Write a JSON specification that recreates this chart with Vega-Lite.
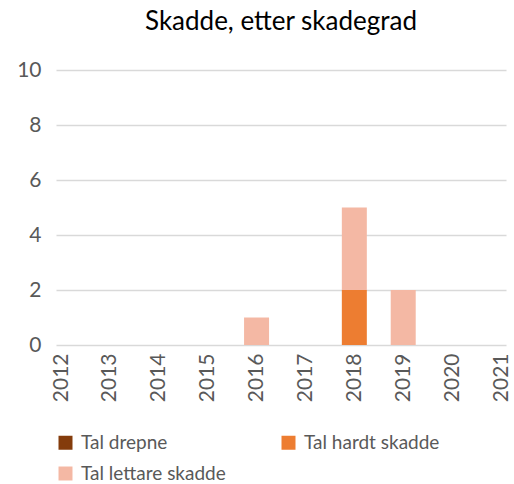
{
  "$schema": "https://vega.github.io/schema/vega-lite/v6.json",
  "width": 450,
  "height": 275,
  "padding": {"left": 16, "top": 9, "right": 0, "bottom": 5},
  "background": "white",
  "title": {"text": "Skadde, etter skadegrad", "fontSize": 26, "font": "Lato", "fontWeight": "normal", "color": "#000000", "offset": 24, "anchor": "middle"},
  "config": {"view": {"stroke": null}, "font": "Lato"},
  "data": {"values": [
    {"year": 2012, "serie": "Tal drepne", "n": 0},
    {"year": 2016, "serie": "Tal lettare skadde", "n": 1},
    {"year": 2018, "serie": "Tal hardt skadde", "n": 2},
    {"year": 2018, "serie": "Tal lettare skadde", "n": 3},
    {"year": 2019, "serie": "Tal lettare skadde", "n": 2}
  ]},
  "mark": {"type": "bar", "size": 25},
  "encoding": {
    "x": {"field": "year", "type": "quantitative",
      "scale": {"domain": [2012, 2021], "nice": false, "zero": false},
      "axis": {"values": [2012,2013,2014,2015,2016,2017,2018,2019,2020,2021], "format": "d", "title": null, "grid": false, "domain": false, "ticks": false, "labelAngle": -90, "labelAlign": "right", "labelBaseline": "middle", "labelFontSize": 21, "labelColor": "#595959", "labelPadding": 8, "labelFlush": false, "labelOverlap": false}},
    "y": {"field": "n", "type": "quantitative", "stack": "zero",
      "scale": {"domain": [0, 10], "nice": false},
      "axis": {"values": [0,2,4,6,8,10], "title": null, "domain": false, "ticks": false, "gridColor": "#D9D9D9", "gridWidth": 1.3, "labelFontSize": 21, "labelColor": "#595959", "labelPadding": 15}},
    "color": {"field": "serie", "type": "nominal",
      "scale": {"domain": ["Tal drepne", "Tal hardt skadde", "Tal lettare skadde"], "range": ["#843C0C", "#ED7D31", "#F4B8A4"]},
      "legend": {"title": null, "orient": "bottom", "direction": "horizontal", "columns": 2, "columnPadding": 53, "rowPadding": 11, "symbolType": "square", "symbolSize": 196, "symbolStrokeWidth": 0, "labelFontSize": 19, "labelColor": "#595959", "offset": 31, "labelOffset": 6}},
    "order": {"field": "serie"}
  }
}
